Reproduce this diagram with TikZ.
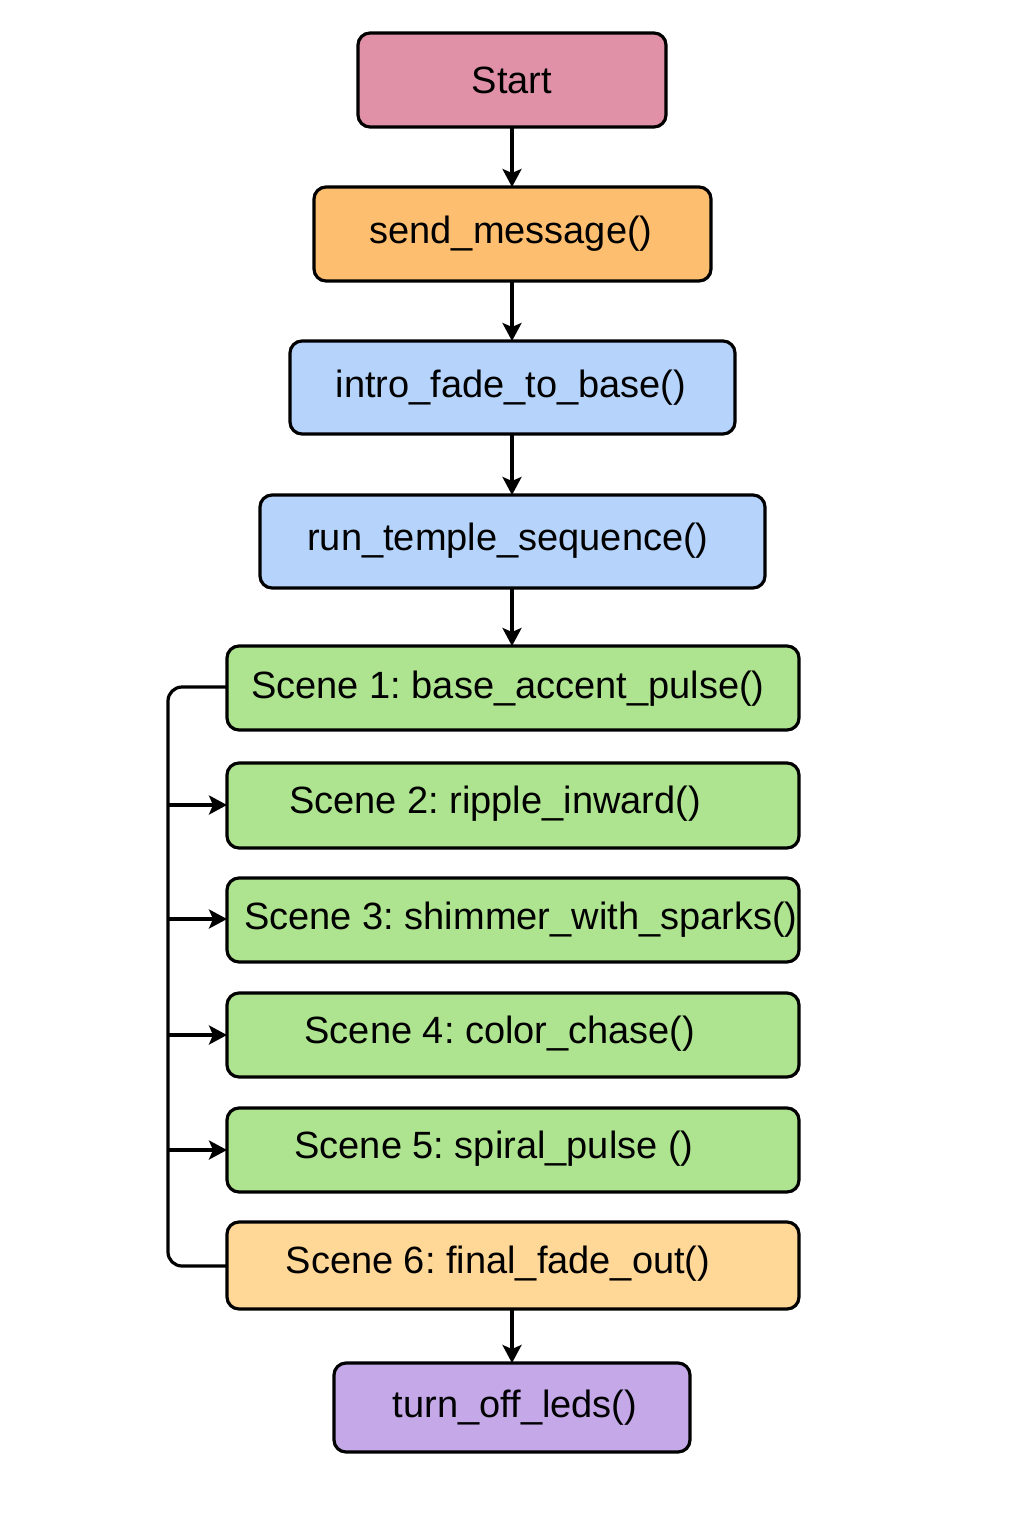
\documentclass[tikz,border=0pt]{standalone}
\usepackage{fontspec}
\setmainfont{Liberation Sans}
\usetikzlibrary{arrows.meta}
\definecolor{cstart}{HTML}{E091A8}
\definecolor{corange}{HTML}{FDBF6F}
\definecolor{cblue}{HTML}{B5D3FB}
\definecolor{cgreen}{HTML}{AEE48F}
\definecolor{clorange}{HTML}{FFD796}
\definecolor{cpurple}{HTML}{C4A8E8}
\tikzset{
  boxstyle/.style={draw=black, line width=3.2pt, rounded corners=12pt},
  lbl/.style={font=\fontsize{38}{45}\selectfont\frenchspacing, text=black, inner sep=0pt, anchor=center},
  conn/.style={draw=black, line width=3.2pt, -{Stealth[length=18pt,width=19pt,inset=4pt]}},
  plainline/.style={draw=black, line width=3.2pt, rounded corners=14pt},
}
\begin{document}
\begin{tikzpicture}[x=1pt,y=-1pt]
\useasboundingbox (0,0) rectangle (1024,1536);
\fill[white] (0,0) rectangle (1024,1536);
\path[boxstyle, fill=cstart] (358,33) rectangle (666,127);
\node[lbl] (start) at (512,80) {Start};
\coordinate (startB) at (512,127);
\path[boxstyle, fill=corange] (314,187) rectangle (711,281);
\node[lbl] (send) at (511,234) {send\_message()};
\coordinate (sendT) at (512,187);
\coordinate (sendB) at (512,281);
\path[boxstyle, fill=cblue] (290,341) rectangle (735,434);
\node[lbl] (intro) at (511,388) {intro\_fade\_to\_base()};
\coordinate (introT) at (512,341);
\coordinate (introB) at (512,434);
\path[boxstyle, fill=cblue] (260,495) rectangle (765,588);
\node[lbl] (run) at (508,541) {run\_temple\_sequence()};
\coordinate (runT) at (512,495);
\coordinate (runB) at (512,588);
\path[boxstyle, fill=cgreen] (227,646) rectangle (799,730);
\node[lbl] (s1) at (508,689) {Scene 1: base\_accent\_pulse()};
\coordinate (s1T) at (512,646);
\coordinate (s1L) at (227,687);
\path[boxstyle, fill=cgreen] (227,763) rectangle (799,848);
\node[lbl] (s2) at (495,804) {Scene 2: ripple\_inward()};
\coordinate (s2L) at (227,805);
\path[boxstyle, fill=cgreen] (227,878) rectangle (799,962);
\node[lbl] (s3) at (521,920) {Scene 3: shimmer\_with\_sparks()};
\coordinate (s3L) at (227,919);
\path[boxstyle, fill=cgreen] (227,993) rectangle (799,1077);
\node[lbl] (s4) at (500,1034) {Scene 4: color\_chase()};
\coordinate (s4L) at (227,1035);
\path[boxstyle, fill=cgreen] (227,1108) rectangle (799,1192);
\node[lbl] (s5) at (494,1149) {Scene 5: spiral\_pulse ()};
\coordinate (s5L) at (227,1150);
\path[boxstyle, fill=clorange] (227,1222) rectangle (799,1309);
\node[lbl] (s6) at (498,1264) {Scene 6: final\_fade\_out()};
\coordinate (s6L) at (227,1266);
\coordinate (s6B) at (512,1309);
\path[boxstyle, fill=cpurple] (334,1363) rectangle (690,1452);
\node[lbl] (off) at (515,1408) {turn\_off\_leds()};
\coordinate (offT) at (512,1363);
% connectors
\draw[conn] (startB) -- (sendT);
\draw[conn] (sendB) -- (introT);
\draw[conn] (introB) -- (runT);
\draw[conn] (runB) -- (s1T);
\draw[conn] (s6B) -- (offT);
\draw[plainline] (s1L) -- (168,687) -- (168,1266) -- (s6L);
\foreach \n/\y in {s2L/805,s3L/919,s4L/1035,s5L/1150}{
  \draw[conn] (168,\y) -- (\n);
}
\end{tikzpicture}
\end{document}
